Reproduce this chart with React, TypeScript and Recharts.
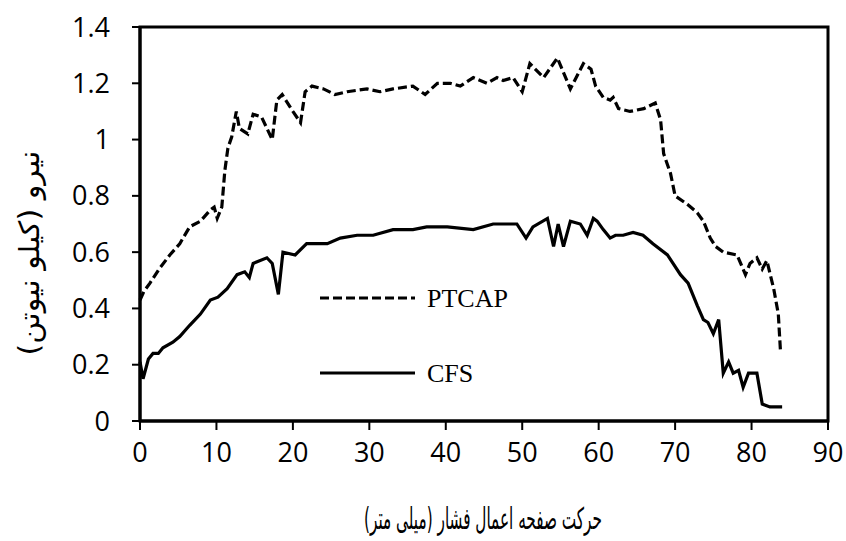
import React from 'react';
import { LineChart, Line, XAxis, YAxis, ReferenceArea } from 'recharts';

// PTCAP (dashed) – displacement (mm) and force (kN)
const ptcapX = [0, 0.5, 1.3, 2.5, 3.9, 5.2, 6.5, 7.9, 9.2, 9.7, 10.1, 10.7, 11.1, 11.5, 12.0, 12.6, 13.0, 14.1, 14.8, 15.9, 16.6, 17.3, 17.9, 18.6, 20.0, 21.0, 21.6, 22.5, 24.0, 25.5, 27.1, 29.7, 31.4, 33.1, 35.7, 37.3, 38.9, 40.6, 41.9, 43.6, 45.4, 46.7, 47.5, 48.8, 50.0, 51.0, 52.8, 54.6, 56.3, 58.0, 59.0, 59.6, 60.6, 61.5, 61.9, 62.6, 64.1, 65.9, 67.4, 68.1, 68.5, 69.4, 70.0, 71.6, 72.9, 73.7, 74.6, 75.3, 76.3, 78.1, 79.2, 79.8, 80.7, 81.4, 82.0, 82.9, 83.5, 83.8];
const ptcapY = [0.43, 0.46, 0.49, 0.54, 0.59, 0.63, 0.69, 0.71, 0.75, 0.76, 0.72, 0.76, 0.89, 0.97, 1.01, 1.10, 1.04, 1.02, 1.09, 1.08, 1.04, 1.00, 1.14, 1.16, 1.10, 1.06, 1.17, 1.19, 1.18, 1.16, 1.17, 1.18, 1.17, 1.18, 1.19, 1.16, 1.20, 1.20, 1.19, 1.22, 1.20, 1.22, 1.21, 1.22, 1.17, 1.27, 1.22, 1.29, 1.18, 1.27, 1.25, 1.19, 1.15, 1.14, 1.15, 1.11, 1.10, 1.11, 1.13, 1.07, 0.95, 0.88, 0.80, 0.77, 0.74, 0.71, 0.65, 0.62, 0.60, 0.59, 0.52, 0.56, 0.58, 0.54, 0.57, 0.47, 0.38, 0.24];

// CFS (solid)
const cfsX = [0, 0.4, 1.1, 1.7, 2.4, 3.0, 4.3, 5.2, 6.5, 7.9, 9.2, 10.2, 11.4, 12.7, 13.7, 14.3, 14.8, 16.6, 17.3, 18.1, 18.7, 20.3, 21.8, 23.2, 24.5, 26.2, 28.4, 30.5, 33.1, 35.7, 37.5, 40.2, 43.6, 46.2, 49.3, 50.5, 51.4, 53.3, 54.1, 54.7, 55.4, 56.3, 57.6, 58.5, 59.3, 59.8, 60.6, 61.5, 62.2, 63.2, 64.5, 65.8, 67.1, 69.0, 70.7, 71.7, 72.9, 73.7, 74.3, 75.0, 75.7, 76.3, 77.0, 77.6, 78.3, 78.9, 79.6, 80.7, 81.4, 82.4, 84.0];
const cfsY = [0.21, 0.15, 0.22, 0.24, 0.24, 0.26, 0.28, 0.30, 0.34, 0.38, 0.43, 0.44, 0.47, 0.52, 0.53, 0.51, 0.56, 0.58, 0.56, 0.45, 0.60, 0.59, 0.63, 0.63, 0.63, 0.65, 0.66, 0.66, 0.68, 0.68, 0.69, 0.69, 0.68, 0.70, 0.70, 0.65, 0.69, 0.72, 0.62, 0.70, 0.62, 0.71, 0.70, 0.66, 0.72, 0.71, 0.68, 0.65, 0.66, 0.66, 0.67, 0.66, 0.63, 0.59, 0.52, 0.49, 0.41, 0.36, 0.35, 0.31, 0.36, 0.17, 0.21, 0.17, 0.18, 0.12, 0.17, 0.17, 0.06, 0.05, 0.05];

const xTicks = [0, 10, 20, 30, 40, 50, 60, 70, 80, 90];
const yTicks = [0, 0.2, 0.4, 0.6, 0.8, 1, 1.2, 1.4];

const xTitle = 'حرکت صفحه اعمال فشار (میلی متر)';
const yTitle = 'نیرو (کیلو نیوتن)';

const ptcapData = ptcapX.map((x, i) => ({ x, y: ptcapY[i] }));
const cfsData = cfsX.map((x, i) => ({ x, y: cfsY[i] }));

const tickFont = { fontFamily: '"Open Sans", sans-serif', fontSize: 27, fill: '#000' };
const dash = '9 4';

export default function App() {
  return (
    <div style={{ position: 'relative', width: 846, height: 541 }}>
      <style>{'html, body { margin: 0; overflow: hidden; } .recharts-surface { overflow: visible; }'}</style>
      <LineChart width={846} height={541} margin={{ top: 27, right: 18, bottom: 80, left: 70 }}>
        <XAxis
          dataKey="x"
          type="number"
          domain={[0, 90]}
          ticks={xTicks}
          allowDuplicatedCategory={false}
          interval={0}
          height={40}
          tick={tickFont}
          tickSize={9}
          tickMargin={13}
          axisLine={{ stroke: '#000', strokeWidth: 3 }}
          tickLine={{ stroke: '#000', strokeWidth: 2 }}
        />
        <YAxis
          type="number"
          domain={[0, 1.4]}
          ticks={yTicks}
          width={70}
          tick={tickFont}
          tickSize={8}
          tickMargin={22}
          axisLine={{ stroke: '#000', strokeWidth: 3 }}
          tickLine={{ stroke: '#000', strokeWidth: 2 }}
        />
        <ReferenceArea x1={0} x2={90} y1={0} y2={1.4} fill="none" stroke="#000" strokeWidth={3} ifOverflow="visible" />
        <Line
          data={ptcapData}
          dataKey="y"
          type="linear"
          stroke="#000"
          strokeWidth={3.2}
          strokeDasharray={dash}
          dot={false}
          isAnimationActive={false}
        />
        <Line
          data={cfsData}
          dataKey="y"
          type="linear"
          stroke="#000"
          strokeWidth={3.2}
          dot={false}
          isAnimationActive={false}
        />
      </LineChart>
      <svg width={846} height={541} style={{ position: 'absolute', left: 0, top: 0, pointerEvents: 'none' }}>
        {/* legend */}
        <line x1={320} y1={298} x2={415} y2={298} stroke="#000" strokeWidth={3.2} strokeDasharray={dash} />
        <text x={427} y={306.5} fontFamily='"Liberation Serif", serif' fontSize={26} fill="#000">PTCAP</text>
        <line x1={320} y1={373} x2={415} y2={373} stroke="#000" strokeWidth={3.2} />
        <text x={427} y={381.5} fontFamily='"Liberation Serif", serif' fontSize={26} fill="#000">CFS</text>
        {/* axis titles */}
        <text
          x={483}
          y={518}
          direction="rtl"
          textAnchor="middle"
          dominantBaseline="central"
          fontFamily='"DejaVu Sans", sans-serif'
          fontSize={30}
          textLength={238}
          lengthAdjust="spacingAndGlyphs"
          fill="#000"
        >
          {xTitle}
        </text>
        <text
          x={0}
          y={0}
          transform="translate(29 253) rotate(-90)"
          direction="rtl"
          textAnchor="middle"
          dominantBaseline="central"
          fontFamily='"DejaVu Sans", sans-serif'
          fontSize={28}
          textLength={205}
          lengthAdjust="spacingAndGlyphs"
          fill="#000"
        >
          {yTitle}
        </text>
      </svg>
    </div>
  );
}
